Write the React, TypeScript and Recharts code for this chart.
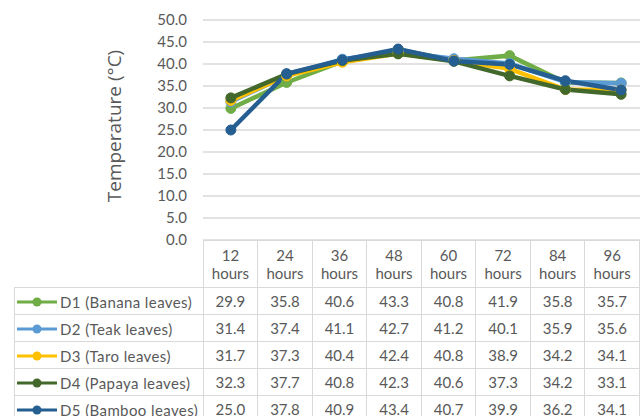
import { CartesianGrid, Line, LineChart, XAxis, YAxis } from 'recharts'

const hours = ['12', '24', '36', '48', '60', '72', '84', '96']
const yTicks = [0, 5, 10, 15, 20, 25, 30, 35, 40, 45, 50]

const banana = [29.9, 35.8, 40.6, 43.3, 40.8, 41.9, 35.8, 35.7]
const teak = [31.4, 37.4, 41.1, 42.7, 41.2, 40.1, 35.9, 35.6]
const taro = [31.7, 37.3, 40.4, 42.4, 40.8, 38.9, 34.2, 34.1]
const papaya = [32.3, 37.7, 40.8, 42.3, 40.6, 37.3, 34.2, 33.1]
const bamboo = [25.0, 37.8, 40.9, 43.4, 40.7, 39.9, 36.2, 34.1]

const series = [
  { key: 'd1', name: 'D1 (Banana leaves)', color: '#70AD47', values: banana },
  { key: 'd2', name: 'D2 (Teak leaves)', color: '#5B9BD5', values: teak },
  { key: 'd3', name: 'D3 (Taro leaves)', color: '#FFC000', values: taro },
  { key: 'd4', name: 'D4 (Papaya leaves)', color: '#43682B', values: papaya },
  { key: 'd5', name: 'D5 (Bamboo leaves)', color: '#255E91', values: bamboo },
]

const chartData = hours.map((h, i) => {
  const row: Record<string, string | number> = { time: `${h} hours` }
  series.forEach((s) => {
    row[s.key] = s.values[i]
  })
  return row
})

const FONT = 'Lato, "Open Sans", sans-serif'
const TEXT = '#595959'
const GRID = '#D9D9D9'

// plot spans x 203..649 (eight 55.75px columns), y 20..240
const COL_W = 55.75
const border = `1.5px solid ${GRID}`

function LegendKey({ color }: { color: string }) {
  return (
    <svg width={41} height={12} style={{ verticalAlign: 'middle', marginRight: 2 }}>
      <line x1={0} y1={6} x2={40} y2={6} stroke={color} strokeWidth={3} />
      <circle cx={20} cy={6} r={4.5} fill={color} />
    </svg>
  )
}

export default function App() {
  return (
    <div
      style={{
        position: 'fixed',
        left: 0,
        top: 0,
        width: 640,
        height: 416,
        overflow: 'hidden',
        background: '#fff',
        fontFamily: FONT,
        color: TEXT,
      }}
    >
      <div style={{ position: 'absolute', left: 0, top: 0 }}>
        <LineChart
          width={660}
          height={252}
          data={chartData}
          margin={{ top: 20, right: 11, left: 0, bottom: 12 }}
        >
          <CartesianGrid vertical={false} stroke={GRID} strokeWidth={1.5} />
          <XAxis
            dataKey="time"
            hide
            padding={{ left: COL_W / 2, right: COL_W / 2 }}
          />
          <YAxis
            width={203}
            domain={[0, 50]}
            ticks={yTicks}
            interval={0}
            axisLine={false}
            tickLine={false}
            tickSize={0}
            tickMargin={16}
            tickFormatter={(v: number) => v.toFixed(1)}
            tick={{ fontSize: 15, fill: TEXT, fontFamily: FONT }}
          />
          {series.map((s) => (
            <Line
              key={s.key}
              dataKey={s.key}
              name={s.name}
              stroke={s.color}
              strokeWidth={4.5}
              dot={{ r: 5, fill: s.color, stroke: s.color, strokeWidth: 1 }}
              isAnimationActive={false}
            />
          ))}
        </LineChart>
      </div>

      <div
        style={{
          position: 'absolute',
          left: 114,
          top: 126,
          transform: 'translate(-50%, -50%) rotate(-90deg)',
          whiteSpace: 'nowrap',
          fontFamily: '"Open Sans", sans-serif',
          fontSize: 19,
        }}
      >
        Temperature (°C)
      </div>

      <table
        style={{
          position: 'absolute',
          left: 14,
          top: 240,
          borderCollapse: 'collapse',
          tableLayout: 'fixed',
          fontSize: 15,
          color: TEXT,
          fontFamily: FONT,
        }}
      >
        <colgroup>
          <col style={{ width: 189 }} />
          {hours.map((h) => (
            <col key={h} style={{ width: COL_W }} />
          ))}
        </colgroup>
        <tbody>
          <tr style={{ height: 47 }}>
            <td style={{ padding: 0 }} />
            {hours.map((h) => (
              <td
                key={h}
                style={{
                  border,
                  padding: 0,
                  textAlign: 'center',
                  lineHeight: '18px',
                }}
              >
                {h}
                <br />
                hours
              </td>
            ))}
          </tr>
          {series.map((s) => (
            <tr key={s.key} style={{ height: 27 }}>
              <td style={{ border, padding: '0 0 0 2px', whiteSpace: 'nowrap' }}>
                <LegendKey color={s.color} />
                <span style={{ verticalAlign: 'middle', letterSpacing: 0.4 }}>
                  {s.name}
                </span>
              </td>
              {s.values.map((v, i) => (
                <td key={i} style={{ border, padding: 0, textAlign: 'center' }}>
                  {v.toFixed(1)}
                </td>
              ))}
            </tr>
          ))}
        </tbody>
      </table>
    </div>
  )
}
